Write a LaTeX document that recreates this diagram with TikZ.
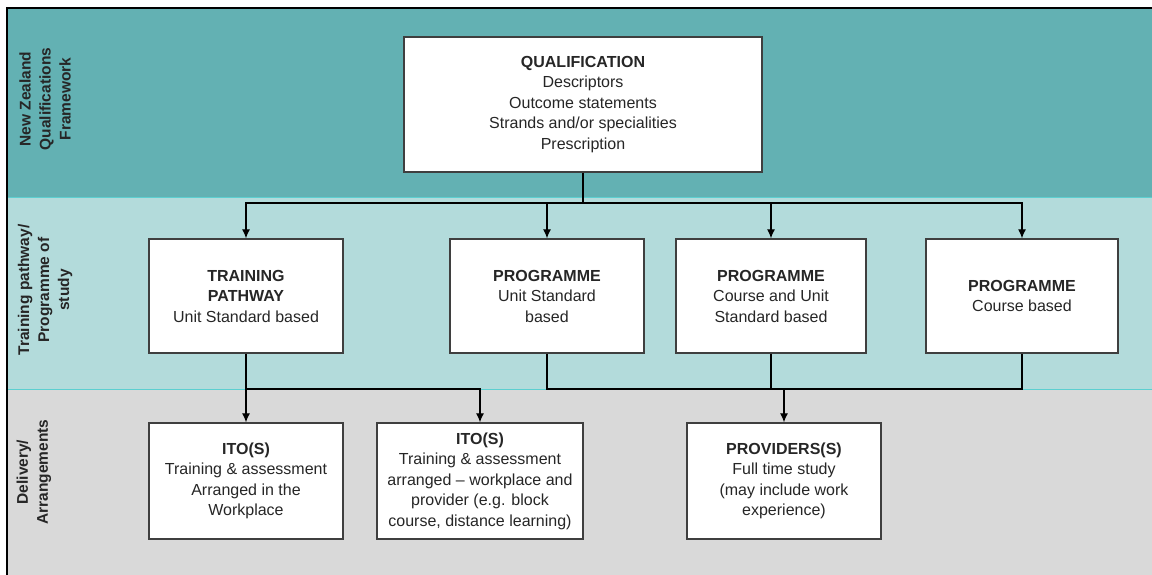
\documentclass[tikz,border=0pt]{standalone}
\usepackage{fontspec}
\setmainfont{Liberation Sans}
\usetikzlibrary{positioning, arrows.meta}

\definecolor{bandtop}{HTML}{63B1B3}
\definecolor{bandmid}{HTML}{B3DBDB}
\definecolor{bandlow}{HTML}{D9D9D9}
\definecolor{bandedge}{HTML}{5CCFD0}
\definecolor{boxedge}{HTML}{3F3F3F}
\definecolor{inktext}{HTML}{262626}

\tikzset{
  stage/.style={draw=boxedge, line width=1.3pt, fill=white, align=center,
                inner sep=0pt, minimum height=114, text=inktext,
                font=\fontsize{16}{20.5}\selectfont},
  lane/.style={rotate=90, align=center, text=inktext,
               font=\fontsize{15.5}{20}\selectfont\bfseries},
  flow/.style={-{Latex[length=9pt,width=8pt]}, line width=1.2pt},
  link/.style={line width=1.2pt}
}

\begin{document}
\begin{tikzpicture}[x=1pt, y=-1pt]
\useasboundingbox (0,0) rectangle (1152,575);
        % Draw the three bands
        \fill[bandtop] (7,8)   rectangle (1152,198);
        \fill[bandmid] (7,198) rectangle (1152,389);
        \fill[bandlow] (7,389) rectangle (1152,575);
        \draw[bandedge, line width=1pt] (7,198) -- (1152,198) (7,389) -- (1152,389);
        \draw[black, line width=1.5pt] (7,575) -- (7,8) -- (1152,8);
        % Band labels
        \node[lane] (nzqf)  at (45,99)  {New Zealand\\Qualifications\\Framework};
        \node[lane] (path)  at (45,290) {Training pathway/\\Programme of\\study};
        \node[lane] (deliv) at (34,472) {Delivery/\\Arrangements};
        % Draw the boxes
        \node[stage, minimum width=358, minimum height=135] at (583,104.5) (qual)
            {\textbf{QUALIFICATION}\\Descriptors\\Outcome statements\\Strands and/or specialities\\Prescription};
        \node[stage, minimum width=194] at (246,296)  (tp)    {\textbf{TRAINING}\\\textbf{PATHWAY}\\Unit Standard based};
        \node[stage, minimum width=194] at (547,296)  (progA) {\textbf{PROGRAMME}\\Unit Standard\\based};
        \node[stage, minimum width=190] at (771,296)  (progB) {\textbf{PROGRAMME}\\Course and Unit\\Standard based};
        \node[stage, minimum width=192] at (1022,296) (progC) {\textbf{PROGRAMME}\\Course based};
        \node[stage, minimum width=194, minimum height=116] at (246,481) (itoA)
            {\textbf{ITO(S)}\\Training \& assessment\\Arranged in the\\Workplace};
        \node[stage, minimum width=206, minimum height=116] at (480,481) (itoB)
            {\textbf{ITO(S)}\\Training \& assessment\\arranged -- workplace and\\provider (e.g. block\\course, distance learning)};
        \node[stage, minimum width=194, minimum height=116] at (784,481) (prov)
            {\textbf{PROVIDERS(S)}\\Full time study\\(may include work\\experience)};
        % Connect the boxes
        \coordinate (split)  at (583,203);
        \coordinate (tpjoin) at (246,389);
        \draw[link] (qual.south) -- (split);
        \foreach \n in {tp, progA, progB, progC}
            \draw[flow] (split) -| (\n.north);
        \draw[flow] (tp.south) -- (itoA.north);
        \draw[flow] (tpjoin) -| (itoB.north);
        \draw[link] (progA.south) |- (progC.south |- tpjoin) -- (progC.south);
        \draw[link] (progB.south) -- (progB.south |- tpjoin);
        \draw[flow] (prov.north |- tpjoin) -- (prov.north);
\end{tikzpicture}
\end{document}
